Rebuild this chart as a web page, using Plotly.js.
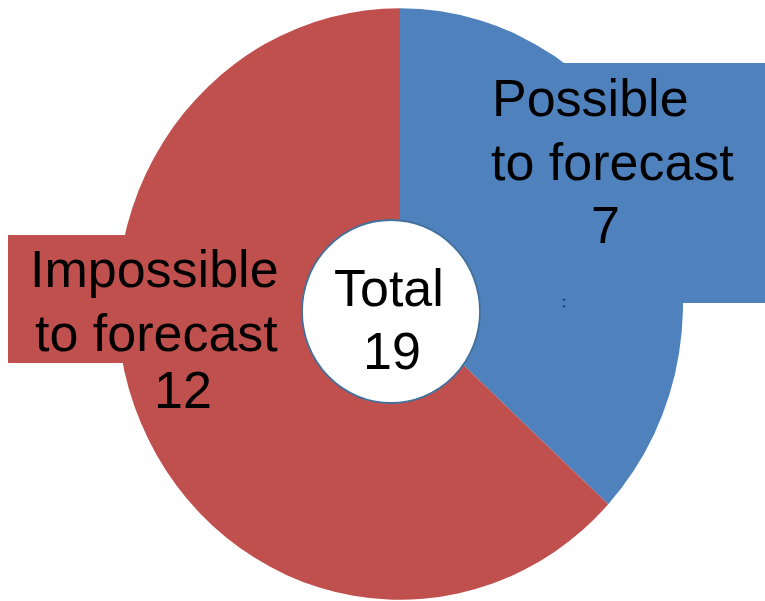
<!DOCTYPE html>
<html>
<head>
<meta charset="utf-8">
<script src="https://cdn.plot.ly/plotly-3.0.1.min.js"></script>
<style>
html,body{margin:0;padding:0;background:#fff;}
#wrap{position:relative;width:765px;height:601px;overflow:hidden;}
#pie{position:absolute;left:0;top:0;width:765px;transform-origin:0 0;}
#overlay{position:absolute;left:0;top:0;width:765px;height:601px;}
</style>
</head>
<body>
<div id="wrap"><div id="pie"></div><div id="overlay"></div></div>
<script>
// Data
var categories = ["Possible to forecast", "Impossible to forecast"];
var values = [7, 12];
var colors = ["#4F81BD", "#C0504D"];
var totalLabel = "Total";
var totalValue = values[0] + values[1];

var W = 765, H = 601;
// The reference pie is slightly taller than wide: draw it in a squeezed layout and stretch it back.
var S = 296 / 283;
var HL = Math.round(H / S);
document.getElementById("pie").style.height = HL + "px";
document.getElementById("pie").style.transform = "scale(1," + (H / HL) + ")";

var cx = 400, cyL = 304 * HL / H, r = 283;

var trace = {
  type: "pie",
  labels: categories,
  values: values,
  sort: false,
  direction: "clockwise",
  rotation: 0,
  textinfo: "none",
  hoverinfo: "none",
  marker: { colors: colors, line: { width: 0 } },
  domain: { x: [(cx - r) / W, (cx + r) / W], y: [1 - (cyL + r) / HL, 1 - (cyL - r) / HL] },
  showlegend: false
};

Plotly.newPlot("pie", [trace], {
  width: W, height: HL,
  margin: { l: 0, r: 0, t: 0, b: 0 },
  paper_bgcolor: "#FFFFFF", plot_bgcolor: "#FFFFFF", showlegend: false
}, { displayModeBar: false, staticPlot: true });

function px(x) { return x / W; }
function py(y) { return 1 - y / H; }

var font = { family: "Liberation Sans, Arial, sans-serif", size: 52, color: "#000" };
function ann(text, x, y, f) {
  return { xref: "paper", yref: "paper", x: px(x), y: py(y), text: text, showarrow: false,
           xanchor: "center", yanchor: "middle", font: f || font };
}

var annotations = [
  ann("Possible", 590, 98),
  ann("to forecast", 612, 162),
  ann(String(values[0]), 605, 225),
  ann("Impossible", 154, 269),
  ann("to forecast", 156, 333),
  ann(String(values[1]), 183, 390),
  ann(totalLabel, 389, 288),
  ann(String(totalValue), 392, 351),
  ann(":", 564, 301, { family: "Liberation Sans, Arial, sans-serif", size: 15, color: "#000" })
];

var shapes = [
  { type: "rect", xref: "paper", yref: "paper",
    x0: px(450), x1: px(766), y0: py(303), y1: py(63),
    fillcolor: colors[0], line: { width: 0 } },
  { type: "rect", xref: "paper", yref: "paper",
    x0: px(8), x1: px(300), y0: py(363), y1: py(235),
    fillcolor: colors[1], line: { width: 0 } },
  { type: "circle", xref: "paper", yref: "paper",
    x0: px(302), x1: px(480), y0: py(403), y1: py(220),
    fillcolor: "#FFFFFF", line: { color: "#41719C", width: 1.8 } }
];

Plotly.newPlot("overlay", [], {
  width: W, height: H,
  margin: { l: 0, r: 0, t: 0, b: 0 },
  paper_bgcolor: "rgba(0,0,0,0)", plot_bgcolor: "rgba(0,0,0,0)",
  xaxis: { visible: false }, yaxis: { visible: false },
  showlegend: false,
  shapes: shapes,
  annotations: annotations
}, { displayModeBar: false, staticPlot: true });
</script>
</body>
</html>
